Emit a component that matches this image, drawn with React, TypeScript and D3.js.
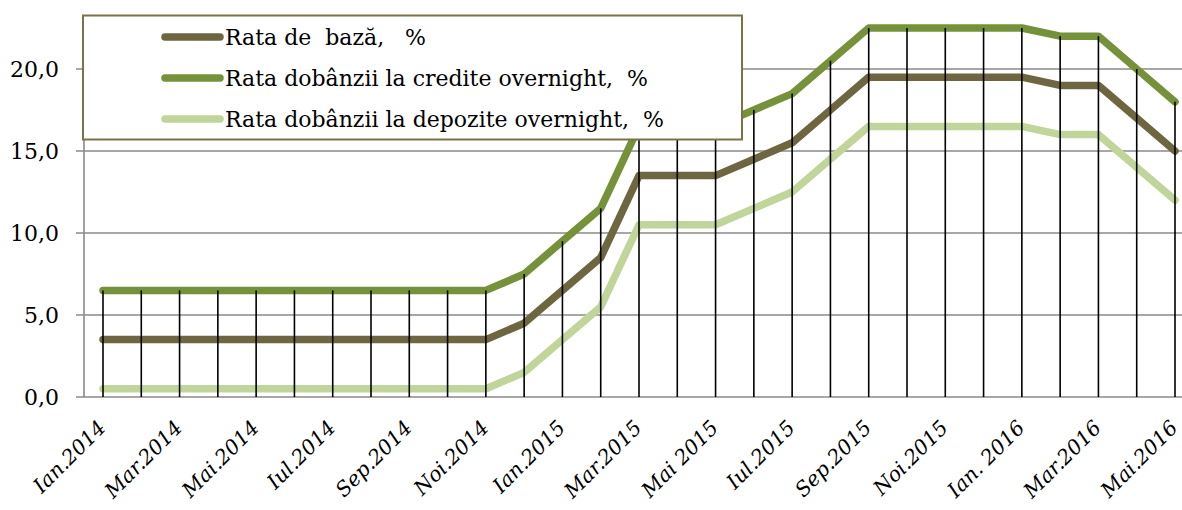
import React from "react";
import * as d3 from "d3";

const months = [
  "Ian.2014","Feb.2014","Mar.2014","Apr.2014","Mai.2014","Iun.2014","Iul.2014","Aug.2014","Sep.2014","Oct.2014","Noi.2014","Dec.2014",
  "Ian.2015","Feb.2015","Mar.2015","Apr.2015","Mai 2015","Iun.2015","Iul.2015","Aug.2015","Sep.2015","Oct.2015","Noi.2015","Dec.2015",
  "Ian. 2016","Feb.2016","Mar.2016","Apr.2016","Mai.2016",
];
const rataBaza = [3.5,3.5,3.5,3.5,3.5,3.5,3.5,3.5,3.5,3.5,3.5,4.5,6.5,8.5,13.5,13.5,13.5,14.5,15.5,17.5,19.5,19.5,19.5,19.5,19.5,19,19,17,15];
const rataCredite = [6.5,6.5,6.5,6.5,6.5,6.5,6.5,6.5,6.5,6.5,6.5,7.5,9.5,11.5,16.5,16.5,16.5,17.5,18.5,20.5,22.5,22.5,22.5,22.5,22.5,22,22,20,18];
const rataDepozite = [0.5,0.5,0.5,0.5,0.5,0.5,0.5,0.5,0.5,0.5,0.5,1.5,3.5,5.5,10.5,10.5,10.5,11.5,12.5,14.5,16.5,16.5,16.5,16.5,16.5,16,16,14,12];
const yTicks = [0, 5, 10, 15, 20];
const seriesNames = ["Rata de  bază,   %", "Rata dobânzii la credite overnight,  %", "Rata dobânzii la depozite overnight,  %"];

const W = 1182, H = 510;
const FONT = "'DejaVu Serif', serif";

export default function App() {
  const x = d3.scalePoint<number>().domain(d3.range(months.length)).range([103, 1175]);
  const y = d3.scaleLinear().domain([0, 25]).range([397, -13]);
  const line = d3.line<number>().x((_, i) => x(i)!).y((v) => y(v));
  const series = [
    { name: seriesNames[0], data: rataBaza, color: "#6E6640" },
    { name: seriesNames[1], data: rataCredite, color: "#75923A" },
    { name: seriesNames[2], data: rataDepozite, color: "#C1D59B" },
  ];
  const fmt = (v: number) => v.toFixed(1).replace(".", ",");
  return (
    <svg width={W} height={H} style={{ position: "fixed", left: 0, top: 0, background: "#fff" }} fontFamily={FONT}>
      {yTicks.map((t) => (
        <g key={t}>
          <line x1={76} x2={1182} y1={y(t)} y2={y(t)} stroke="#8A8A8A" strokeWidth={1.6} />
          <text x={59} y={y(t)} dy="0.35em" textAnchor="end" fontSize={22} fill="#000">{fmt(t)}</text>
        </g>
      ))}
      <line x1={84} x2={84} y1={y(0)} y2={20} stroke="#8A8A8A" strokeWidth={1.6} />
      {series.map((s) => (
        <path key={s.name} d={line(s.data)!} fill="none" stroke={s.color} strokeWidth={7.5} strokeLinejoin="round" strokeLinecap="round" />
      ))}
      {months.map((m, i) => {
        const top = Math.max(rataBaza[i], rataCredite[i], rataDepozite[i]);
        return <line key={m} x1={x(i)} x2={x(i)} y1={y(0)} y2={y(top)} stroke="#000" strokeWidth={1.6} />;
      })}
      {months.map((m, i) =>
        i % 2 === 0 ? (
          <text key={m} transform={`translate(${x(i)! + 4},${429}) rotate(-45)`} textAnchor="end" fontSize={20.5} fontStyle="italic" fill="#000">{m}</text>
        ) : null
      )}
      <rect x={83} y={15.5} width={659} height={124} fill="#fff" stroke="#7A7349" strokeWidth={2} />
      {series.map((s, i) => (
        <g key={s.name}>
          <line x1={165} x2={220} y1={37 + i * 41} y2={37 + i * 41} stroke={s.color} strokeWidth={7.5} strokeLinecap="round" />
          <text x={225} y={37 + i * 41} dy="0.35em" fontSize={22} fill="#000" style={{ whiteSpace: "pre" }}>{s.name}</text>
        </g>
      ))}
    </svg>
  );
}
